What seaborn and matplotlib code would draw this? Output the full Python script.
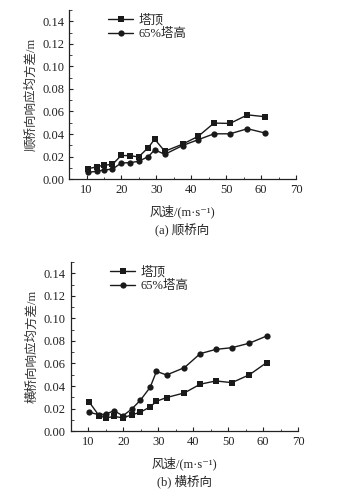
import numpy as np
import matplotlib
matplotlib.use("Agg")
import matplotlib.pyplot as plt
import pandas as pd
import seaborn as sns
from matplotlib.ticker import MultipleLocator

# wind speed (m/s)
wind = [10.3, 13.1, 15.0, 17.4, 19.9, 22.4, 24.9, 27.7, 29.5, 32.4, 37.5, 42.0, 46.5, 51.1, 56.1, 61.0]

# (a) along-bridge response
a_top = [0.0092, 0.0110, 0.0125, 0.0130, 0.0210, 0.0208, 0.0197, 0.0280, 0.0355, 0.0247,
         0.0310, 0.0380, 0.0497, 0.0494, 0.0570, 0.0554]
a_65 = [0.0060, 0.0070, 0.0082, 0.0088, 0.0143, 0.0146, 0.0158, 0.0200, 0.0260, 0.0220,
        0.0298, 0.0350, 0.0402, 0.0402, 0.0447, 0.0410]

# (b) cross-bridge response
b_top = [0.0256, 0.0136, 0.0118, 0.0130, 0.0118, 0.0144, 0.0168, 0.0215, 0.0265, 0.0298,
         0.0339, 0.0416, 0.0445, 0.0430, 0.0500, 0.0607]
b_65 = [0.0168, 0.0144, 0.0153, 0.0180, 0.0136, 0.0195, 0.0274, 0.0389, 0.0530, 0.0498,
        0.0563, 0.0687, 0.0725, 0.0740, 0.0780, 0.0843]

series_names = ["塔顶", "65%塔高"]
ylabels = ["顺桥向响应均方差/m", "横桥向响应均方差/m"]
captions = ["(a) 顺桥向", "(b) 横桥向"]
xlabel = "风速/(m·s⁻¹)"

sns.set_style("ticks")
plt.rcParams['font.family'] = ['Liberation Serif', 'Noto Sans CJK SC', 'DejaVu Sans']
plt.rcParams['font.size'] = 9

fig = plt.figure(figsize=(3.39, 4.99), dpi=100)
ax1 = fig.add_axes([0.204, 0.641, 0.669, 0.339])
ax2 = fig.add_axes([0.209, 0.136, 0.670, 0.339])

for ax, top, h65, yl, cap in [(ax1, a_top, a_65, ylabels[0], captions[0]),
                              (ax2, b_top, b_65, ylabels[1], captions[1])]:
    df = pd.DataFrame({
        "wind": wind * 2,
        "val": top + h65,
        "pos": [series_names[0]] * len(wind) + [series_names[1]] * len(wind),
    })
    sns.lineplot(data=df, x="wind", y="val", style="pos", markers=["s", "o"],
                 dashes=False, color="#1a1a1a", linewidth=1.0, markersize=4.5,
                 markeredgewidth=0, ax=ax)
    ax.set_xlim(5, 70)
    ax.set_ylim(0, 0.15)
    ax.xaxis.set_major_locator(MultipleLocator(10))
    ax.xaxis.set_minor_locator(MultipleLocator(5))
    ax.yaxis.set_major_locator(MultipleLocator(0.02))
    ax.yaxis.set_minor_locator(MultipleLocator(0.01))
    ax.yaxis.set_major_formatter(matplotlib.ticker.FormatStrFormatter('%.2f'))
    ax.tick_params(direction="in", which="major", length=3, width=0.8, labelsize=9, colors="#222222")
    ax.tick_params(direction="in", which="minor", length=1.8, width=0.6)
    ax.set_xticks([10, 20, 30, 40, 50, 60, 70])
    sns.despine(ax=ax)
    for s in ["left", "bottom"]:
        ax.spines[s].set_linewidth(0.9)
        ax.spines[s].set_color("#222222")
    ax.set_ylabel(yl, fontsize=9, color="#333333", labelpad=4)
    ax.set_xlabel("")
    ax.text(0.5, -0.19, xlabel, transform=ax.transAxes, ha="center", va="center", fontsize=9)
    ax.text(0.5, -0.30, cap, transform=ax.transAxes, ha="center", va="center", fontsize=9)
    leg = ax.legend(loc="upper left", bbox_to_anchor=(0.14, 1.02), frameon=False, fontsize=9,
                    handlelength=2.0, handletextpad=0.4, labelspacing=0.15, borderaxespad=0.2)

fig.savefig("out.png", dpi=100)
